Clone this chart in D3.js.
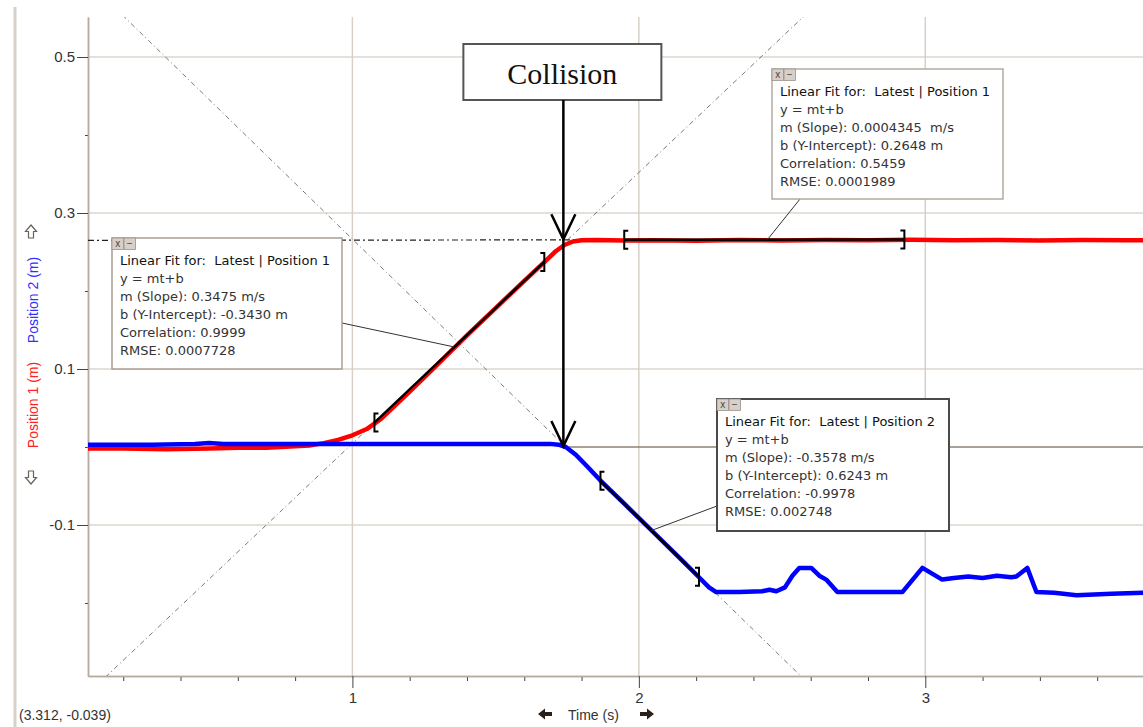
<!DOCTYPE html>
<html>
<head>
<meta charset="utf-8">
<script src="https://cdn.jsdelivr.net/npm/d3@7"></script>
<style>
  body { margin: 0; background: #fff; }
  svg { display: block; font-family: "Liberation Sans", Arial, sans-serif; }
</style>
</head>
<body>
<div id="grafico"></div>
<script>
// Position 1 (red cart) - time (s) and position (m)
const timeP1 = [0.077, 0.2, 0.35, 0.5, 0.6, 0.7, 0.8, 0.85, 0.9, 0.95, 1.0, 1.05, 1.1, 1.2, 1.3,
  1.4, 1.5, 1.6, 1.67, 1.71, 1.74, 1.77, 1.80, 1.85, 1.95, 2.05, 2.2, 2.35, 2.5, 2.65,
  2.8, 2.95, 3.1, 3.25, 3.4, 3.55, 3.7, 3.76];
const pos1 = [-0.002, -0.002, -0.003, -0.002, -0.001, -0.001, 0.001, 0.002, 0.005, 0.009, 0.015, 0.023, 0.036, 0.071, 0.107,
  0.143, 0.178, 0.213, 0.237, 0.251, 0.259, 0.2635, 0.265, 0.2655, 0.2648, 0.2652, 0.2645, 0.2653, 0.2648, 0.2655,
  0.2650, 0.2657, 0.2652, 0.2655, 0.2648, 0.2654, 0.2650, 0.2650];

// Position 2 (blue cart)
const timeP2 = [0.077, 0.3, 0.45, 0.5, 0.55, 0.8, 1.1, 1.4, 1.6, 1.69, 1.72, 1.745, 1.78, 1.82, 1.866,
  1.95, 2.05, 2.15, 2.21, 2.245, 2.27, 2.35, 2.43, 2.456, 2.48, 2.51, 2.536, 2.56, 2.602, 2.63,
  2.654, 2.693, 2.8, 2.92, 2.99, 3.059, 3.1, 3.15, 3.2, 3.25, 3.3, 3.318, 3.356, 3.388, 3.45,
  3.528, 3.65, 3.76];
const pos2 = [0.003, 0.003, 0.004, 0.005, 0.004, 0.004, 0.004, 0.004, 0.004, 0.004, 0.003, 0.0, -0.010, -0.025, -0.043,
  -0.073, -0.109, -0.145, -0.167, -0.180, -0.186, -0.186, -0.185, -0.183, -0.185, -0.180, -0.165, -0.155, -0.155, -0.165,
  -0.170, -0.186, -0.186, -0.186, -0.155, -0.170, -0.168, -0.166, -0.168, -0.165, -0.167, -0.166, -0.155, -0.186, -0.187,
  -0.190, -0.188, -0.187];

// linear fits
const fitSeries = ["Position 1", "Position 1", "Position 2"];
const fitSlope = [0.3475, 0.0004345, -0.3578];
const fitIntercept = [-0.3430, 0.2648, 0.6243];
const fitStart = [1.077, 1.949, 1.866];
const fitEnd = [1.67, 2.927, 2.21];
const fitCorrelation = ["0.9999", "0.5459", "-0.9978"];
const fitRMSE = ["0.0007728", "0.0001989", "0.002748"];
const fitLeaderT = [1.356, 2.449, 2.044];

// ticks
const yLabelTicks = [0.5, 0.3, 0.1, -0.1];
const yMinorTicks = [0.4, 0.2, 0.0, -0.2];
const xLabelTicks = [1, 2, 3];
const xMinorTicks = [0.2, 0.4, 0.6, 0.8, 1.2, 1.4, 1.6, 1.8, 2.2, 2.4, 2.6, 2.8, 3.2, 3.4, 3.6];

const collisionTime = 1.74;
const cursorText = "(3.312, -0.039)";

// Margens
const margin = { top: 17, right: 0, bottom: 51, left: 88 };
const width = 1143 - margin.left - margin.right;
const height = 727 - margin.top - margin.bottom;

const svg = d3.select("#grafico")
  .append("svg")
    .attr("width", 1143)
    .attr("height", 727);

svg.append("rect").attr("width", 1143).attr("height", 727).attr("fill", "#fff");

// barra cinza da esquerda
svg.append("line")
  .attr("x1", 15).attr("x2", 15).attr("y1", 7).attr("y2", 727)
  .attr("stroke", "#d9d1c8").attr("stroke-width", 3);

const g = svg.append("g")
  .attr("transform", "translate(" + margin.left + "," + margin.top + ")");

const x = d3.scaleLinear().domain([0.077, 3.76]).range([0, width]);
const y = d3.scaleLinear().domain([-0.2936, 0.5513]).range([height, 0]);

g.append("clipPath").attr("id", "clip")
  .append("rect").attr("width", width).attr("height", height);

// grade
g.selectAll(".hgrid").data(yLabelTicks).join("line")
  .attr("x1", 0).attr("x2", width)
  .attr("y1", d => y(d)).attr("y2", d => y(d))
  .attr("stroke", "#ddd6ce").attr("stroke-width", 1.5);
g.selectAll(".vgrid").data(xLabelTicks).join("line")
  .attr("x1", d => x(d)).attr("x2", d => x(d))
  .attr("y1", 0).attr("y2", height)
  .attr("stroke", "#d8d0c7").attr("stroke-width", 1.5);

// eixos
function styleAxis(sel) {
  sel.select(".domain").attr("stroke", "#b7ab9f").attr("stroke-width", 1.5);
  sel.selectAll(".tick line").attr("stroke", "#444");
  sel.selectAll(".tick text").attr("fill", "#333").attr("font-size", 15)
    .attr("font-family", "'Liberation Sans', Arial, sans-serif");
}

g.append("g")
  .call(d3.axisLeft(y).tickValues(yMinorTicks).tickSize(3).tickSizeOuter(0).tickFormat(""))
  .call(styleAxis);
g.append("g")
  .call(d3.axisLeft(y).tickValues(yLabelTicks).tickSize(11).tickPadding(2).tickSizeOuter(0)
    .tickFormat(d => d.toFixed(1)))
  .call(styleAxis);

g.append("g").attr("transform", "translate(0," + height + ")")
  .call(d3.axisBottom(x).tickValues(xMinorTicks).tickSize(5).tickSizeOuter(0).tickFormat(""))
  .call(styleAxis);
g.append("g").attr("transform", "translate(0," + height + ")")
  .call(d3.axisBottom(x).tickValues(xLabelTicks).tickSize(12).tickPadding(4).tickSizeOuter(0)
    .tickFormat(d3.format("d")))
  .call(styleAxis);

const plot = g.append("g").attr("clip-path", "url(#clip)");
const fitY = (i, t) => fitSlope[i] * t + fitIntercept[i];
const xDom = x.domain();

// retas de ajuste prolongadas
[0, 2].forEach(i => {
  plot.append("line")
    .attr("x1", x(xDom[0])).attr("y1", y(fitY(i, xDom[0])))
    .attr("x2", x(xDom[1])).attr("y2", y(fitY(i, xDom[1])))
    .attr("stroke", "#7a7a7a").attr("stroke-width", 1)
    .attr("stroke-dasharray", "5,3,1,3");
});
plot.append("line")
  .attr("x1", x(xDom[0])).attr("y1", y(fitY(1, xDom[0])))
  .attr("x2", x(xDom[1])).attr("y2", y(fitY(1, xDom[1])))
  .attr("stroke", "#222").attr("stroke-width", 1.2)
  .attr("stroke-dasharray", "6,3,2,3");

// linha de referencia em y = 0 depois da colisao
plot.append("line")
  .attr("x1", x(collisionTime)).attr("x2", width)
  .attr("y1", y(0)).attr("y2", y(0))
  .attr("stroke", "#8c8076").attr("stroke-width", 1.5);

// curvas de posicao
const line = d3.line().x(d => x(d[0])).y(d => y(d[1]));
plot.append("path")
  .datum(d3.zip(timeP1, pos1))
  .attr("d", line).attr("fill", "none")
  .attr("stroke", "#ff0000").attr("stroke-width", 4.5)
  .attr("stroke-linejoin", "round");
plot.append("path")
  .datum(d3.zip(timeP2, pos2))
  .attr("d", line).attr("fill", "none")
  .attr("stroke", "#0000ff").attr("stroke-width", 4.5)
  .attr("stroke-linejoin", "round");

// segmentos de ajuste com colchetes
fitSlope.forEach((m, i) => {
  plot.append("line")
    .attr("x1", x(fitStart[i])).attr("y1", y(fitY(i, fitStart[i])))
    .attr("x2", x(fitEnd[i])).attr("y2", y(fitY(i, fitEnd[i])))
    .attr("stroke", "#000").attr("stroke-width", 2.5);
  const sx = x(fitStart[i]), sy = y(fitY(i, fitStart[i]));
  const ex = x(fitEnd[i]), ey = y(fitY(i, fitEnd[i]));
  plot.append("path")
    .attr("d", `M${sx + 4},${sy - 9}H${sx}V${sy + 9}H${sx + 4}`)
    .attr("fill", "none").attr("stroke", "#000").attr("stroke-width", 2);
  plot.append("path")
    .attr("d", `M${ex - 4},${ey - 9}H${ex}V${ey + 9}H${ex - 4}`)
    .attr("fill", "none").attr("stroke", "#000").attr("stroke-width", 2);
});

// caixas de ajuste (coordenadas da pagina)
const boxes = [
  { x: 112, y: 238, w: 230, h: 131, lx: 342, ly: 323, stroke: "#a99d91", sw: 1.5 },
  { x: 772, y: 69, w: 231, h: 130, lx: 800, ly: 199, stroke: "#b3aaa1", sw: 1.5 },
  { x: 717, y: 399, w: 232, h: 132, lx: 717, ly: 506, stroke: "#4a4a4a", sw: 2 }
];

boxes.forEach((b, i) => {
  const tx = x(fitLeaderT[i]) + margin.left;
  const ty = y(fitY(i, fitLeaderT[i])) + margin.top;
  svg.append("line")
    .attr("x1", b.lx).attr("y1", b.ly).attr("x2", tx).attr("y2", ty)
    .attr("stroke", "#333").attr("stroke-width", 1);
  const bg = svg.append("g").attr("transform", `translate(${b.x},${b.y})`);
  bg.append("rect").attr("width", b.w).attr("height", b.h)
    .attr("fill", "#fff").attr("stroke", b.stroke).attr("stroke-width", b.sw);
  // botoes x e -
  ["x", "\u2212"].forEach((s, k) => {
    bg.append("rect").attr("x", k * 12).attr("y", 0).attr("width", 11.5).attr("height", 11.5)
      .attr("fill", "#d8d0c8").attr("stroke", "#9b9189").attr("stroke-width", 0.8);
    bg.append("text").attr("x", k * 12 + 5.75).attr("y", 9)
      .attr("text-anchor", "middle").attr("font-size", 10).attr("fill", "#444")
      .text(s);
  });
  const lines = [
    "Linear Fit for:  Latest | " + fitSeries[i],
    "y = mt+b",
    "m (Slope): " + String(fitSlope[i]) + (i === 1 ? "  m/s" : " m/s"),
    "b (Y-Intercept): " + fitIntercept[i].toFixed(4) + " m",
    "Correlation: " + fitCorrelation[i],
    "RMSE: " + fitRMSE[i]
  ];
  bg.selectAll("text.fit").data(lines).join("text")
    .attr("class", "fit")
    .attr("x", 8).attr("y", (d, k) => 27 + k * 18)
    .attr("font-family", "'DejaVu Sans', sans-serif")
    .attr("font-size", 13)
    .attr("fill", (d, k) => k === 0 ? "#111" : "#333")
    .attr("xml:space", "preserve")
    .text(d => d);
});

// caixa "Collision" e setas
const ax = x(collisionTime) + margin.left - 1;
svg.append("rect")
  .attr("x", ax - 100).attr("y", 44).attr("width", 198).attr("height", 56)
  .attr("fill", "#fff").attr("stroke", "#555").attr("stroke-width", 2);
svg.append("text")
  .attr("x", ax - 1).attr("y", 84)
  .attr("text-anchor", "middle")
  .attr("font-family", "'Liberation Serif', 'Times New Roman', serif")
  .attr("font-size", 30).attr("fill", "#111")
  .text("Collision");
svg.append("line")
  .attr("x1", ax).attr("x2", ax).attr("y1", 100).attr("y2", y(0) + margin.top - 1)
  .attr("stroke", "#000").attr("stroke-width", 2.5);
[pos1[pos1.length - 1], 0].forEach(v => {
  const ty = y(v) + margin.top - 1;
  svg.append("path")
    .attr("d", `M${ax - 12},${ty - 25}L${ax},${ty}L${ax + 12},${ty - 25}`)
    .attr("fill", "none").attr("stroke", "#000").attr("stroke-width", 2.5);
});

// rotulos dos eixos
svg.append("text")
  .attr("transform", "translate(33,405) rotate(-90)")
  .attr("text-anchor", "middle").attr("dy", "0.35em")
  .attr("font-size", 14).attr("fill", "#ff2020")
  .text("Position 1 (m)");
svg.append("text")
  .attr("transform", "translate(33,300) rotate(-90)")
  .attr("text-anchor", "middle").attr("dy", "0.35em")
  .attr("font-size", 14).attr("fill", "#3030ff")
  .text("Position 2 (m)");

// setas vazadas do eixo y
svg.append("path")
  .attr("d", "M31,225L36.5,231.5H33.5V238H28.5V231.5H25.5Z")
  .attr("fill", "#fff").attr("stroke", "#6b6259").attr("stroke-width", 1.2);
svg.append("path")
  .attr("d", "M31,484L36.5,477.5H33.5V471H28.5V477.5H25.5Z")
  .attr("fill", "#fff").attr("stroke", "#6b6259").attr("stroke-width", 1.2);

// rotulo do tempo com setas
svg.append("text")
  .attr("x", 568).attr("y", 720)
  .attr("font-size", 14).attr("fill", "#333")
  .text("Time (s)");
svg.append("path")
  .attr("d", "M538,714L545,708.5V712H552V716H545V719.5Z")
  .attr("fill", "#2a2018");
svg.append("path")
  .attr("d", "M654,714L647,708.5V712H640V716H647V719.5Z")
  .attr("fill", "#2a2018");

// coordenadas do cursor
svg.append("text")
  .attr("x", 19).attr("y", 720)
  .attr("font-size", 14).attr("fill", "#333")
  .text(cursorText);
</script>
</body>
</html>
